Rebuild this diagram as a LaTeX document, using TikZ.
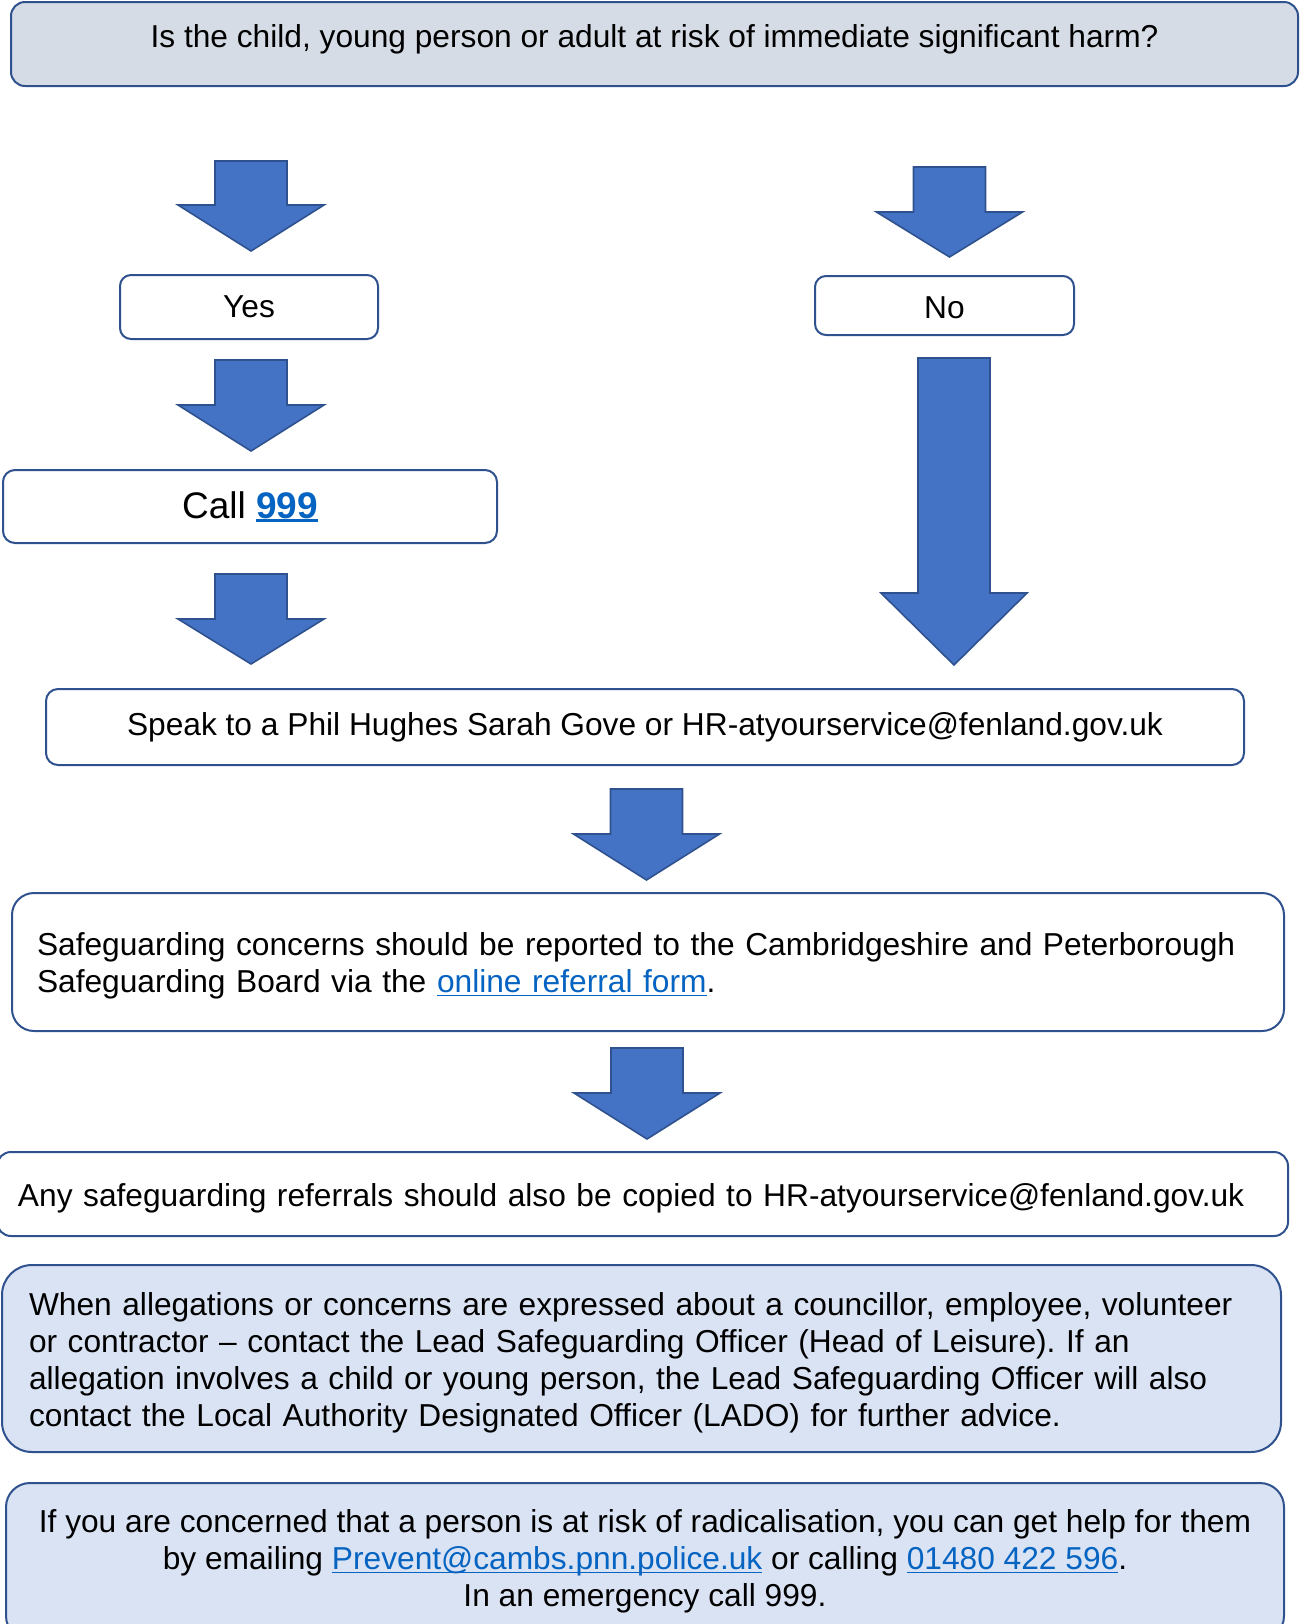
\documentclass[tikz,border=0pt]{standalone}
\usepackage{fontspec}
\setmainfont{Liberation Sans}
\frenchspacing

\definecolor{boxline}{HTML}{2F528F}
\definecolor{arrowfill}{HTML}{4472C4}
\definecolor{qfill}{HTML}{D6DCE5}
\definecolor{notefill}{HTML}{DAE3F3}
\definecolor{linkblue}{HTML}{0563C1}

% underlined link text
\newcommand{\ulink}[2][0.85pt]{{\color{linkblue}\setbox0\hbox{#2}\rlap{\rule[-1.8pt]{\wd0}{#1}}\box0}}
% block arrow: centre x, top, neck, tip
\newcommand{\blockarrow}[4]{\draw[barrow] (#1-36,#2) -- (#1+36,#2) -- (#1+36,#3) -- (#1+73,#3) -- (#1,#4) -- (#1-73,#3) -- (#1-36,#3) -- cycle;}

\begin{document}
\begin{tikzpicture}[
                                        x=0.5pt, y=-0.5pt,
                                        box/.style={rectangle, draw=boxline, line width=1pt, fill=white, inner sep=0pt, font=\fontsize{15.85}{18.45}\selectfont},
                                        question/.style={box, fill=qfill},
                                        note/.style={box, fill=notefill},
                                        barrow/.style={draw=boxline, fill=arrowfill, line width=0.8pt, line join=miter}
                                ]
                                \useasboundingbox (0,0) rectangle (1300,1624);

                                % Define the question node
                                \node[question, rounded corners=7pt, minimum width=643.5pt, minimum height=42pt, text height=11.6pt, text depth=8pt] (q) at (654.5,44) {Is the child, young person or adult at risk of immediate significant harm?};

                                % Define the answer nodes
                                \node[box, rounded corners=5.5pt, minimum width=129pt, minimum height=32pt] (yes) at (249,307) {Yes};
                                \node[box, rounded corners=5.5pt, minimum width=129.5pt, minimum height=29.5pt, text height=13.6pt] (no) at (944.5,305.5) {No};
                                \node[box, rounded corners=6pt, minimum width=247pt, minimum height=36.5pt, font=\fontsize{18.5}{22}\selectfont] (call) at (250,506.5) {Call \ulink[1.3pt]{\textbf{999}}};

                                % Define the action nodes
                                \node[box, rounded corners=6pt, minimum width=599pt, minimum height=38pt] (speak) at (645,727) {Speak to a Phil Hughes Sarah Gove or HR-atyourservice@fenland.gov.uk};
                                \node[box, rounded corners=11pt, minimum width=636pt, minimum height=69pt, text width=611pt, text height=15.6pt, align=left] (report) at (648,962) {Safeguarding concerns should be reported to the Cambridgeshire and Peterborough\\Safeguarding Board via the \ulink{online referral form}.};
                                \node[box, rounded corners=7pt, minimum width=645.5pt, minimum height=42pt, text width=624.5pt, text height=15.6pt, align=left] (copy) at (642.5,1194) {Any safeguarding referrals should also be copied to HR-atyourservice@fenland.gov.uk};

                                % Define the note nodes
                                \node[note, rounded corners=15pt, minimum width=639.5pt, minimum height=93.5pt, text width=612.5pt, text height=15.6pt, align=left] (lado) at (641.5,1358.5) {When allegations or concerns are expressed about a councillor, employee, volunteer\\or contractor – contact the Lead Safeguarding Officer (Head of Leisure). If an\\allegation involves a child or young person, the Lead Safeguarding Officer will also\\contact the Local Authority Designated Officer (LADO) for further advice.};
                                \node[note, rounded corners=12pt, anchor=north, minimum width=639pt, inner ysep=13.4pt, align=center] (prevent) at (645,1482) {If you are concerned that a person is at risk of radicalisation, you can get help for them\\by emailing \ulink{Prevent@cambs.pnn.police.uk} or calling \ulink{01480 422 596}.\\In an emergency call 999.};

                                % Draw the arrows
                                \blockarrow{251}{161}{205}{251}
                                \blockarrow{251}{360}{405}{451}
                                \blockarrow{251}{574}{619}{664}

                                \blockarrow{949.5}{167}{212}{257}
                                \blockarrow{954}{358}{593}{665}

                                \blockarrow{646.5}{789}{834}{880}
                                \blockarrow{647}{1048}{1093}{1139}
                        \end{tikzpicture}
\end{document}
